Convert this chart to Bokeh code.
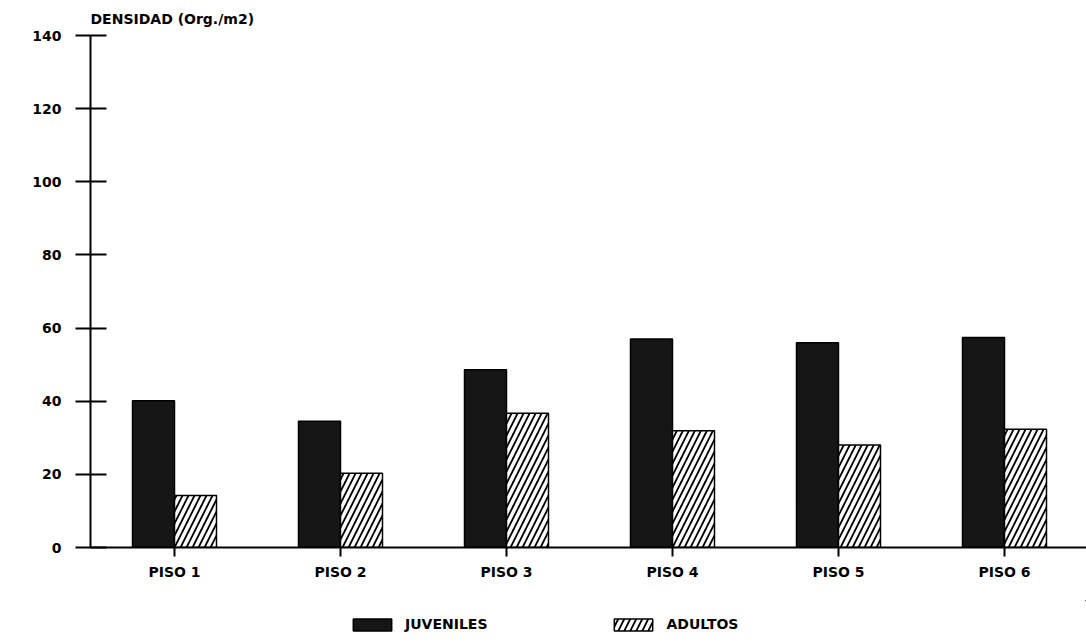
from bokeh.plotting import figure
from bokeh.models import ColumnDataSource, Legend, LegendItem, FixedTicker, Range1d, Title
from bokeh.layouts import column
from bokeh.embed import file_html
from bokeh.resources import INLINE

categories = ["PISO 1", "PISO 2", "PISO 3", "PISO 4", "PISO 5", "PISO 6"]
juveniles = [40.1, 34.5, 48.6, 57.0, 56.0, 57.4]
adultos = [14.2, 20.3, 36.7, 31.9, 28.0, 32.3]
y_ticks = [0, 20, 40, 60, 80, 100, 120, 140]
series_labels = ["JUVENILES", "ADULTOS"]

FONT = "DejaVu Sans"
pos = list(range(1, len(categories) + 1))
bw = 0.253

src = ColumnDataSource(dict(
    x=pos,
    xj=[p - bw / 2 for p in pos],
    xa=[p + bw / 2 for p in pos],
    j=juveniles,
    a=adultos,
))

J_STYLE = dict(fill_color="#161616", line_color="black", line_width=1.5)
A_STYLE = dict(fill_color="white", line_color="black", line_width=1.5,
               hatch_pattern="/", hatch_color="black", hatch_weight=1.8, hatch_scale=12)

p = figure(width=1086, height=600, output_backend="svg", toolbar_location=None,
           x_range=Range1d(0.494, 6.494), y_range=Range1d(0, 140),
           min_border_left=90, min_border_top=34, min_border_right=0, min_border_bottom=53)
p.outline_line_color = None
p.grid.visible = False
p.background_fill_color = "white"
p.border_fill_color = "white"

p.vbar(x="xj", width=bw, top="j", bottom=0, source=src, **J_STYLE)
p.vbar(x="xa", width=bw, top="a", bottom=0, source=src, **A_STYLE)

# Y axis
ya = p.yaxis[0]
ya.ticker = FixedTicker(ticks=y_ticks)
ya.major_tick_in = 16
ya.major_tick_out = 15
ya.minor_tick_line_color = None
ya.axis_line_width = 2
ya.major_tick_line_width = 2
ya.major_label_standoff = 14
ya.major_label_text_font = FONT
ya.major_label_text_font_size = "14px"
ya.major_label_text_font_style = "bold"
ya.major_label_text_color = "black"

# X axis
xa = p.xaxis[0]
xa.ticker = FixedTicker(ticks=pos)
xa.major_label_overrides = {i + 1: c for i, c in enumerate(categories)}
xa.major_tick_in = 0
xa.major_tick_out = 9
xa.minor_tick_line_color = None
xa.axis_line_width = 2
xa.major_tick_line_width = 2
xa.major_label_standoff = 7
xa.major_label_text_font = FONT
xa.major_label_text_font_size = "14px"
xa.major_label_text_font_style = "bold"
xa.major_label_text_color = "black"

p.title = Title(text="DENSIDAD (Org./m2)", align="left", text_font=FONT,
                text_font_size="14px", text_font_style="bold", text_color="black",
                standoff=17, offset=0)

# Legend strip below the chart (its bars lie far outside its ranges; only swatches show)
lg = figure(width=1086, height=42, output_backend="svg", toolbar_location=None,
            x_range=Range1d(-1000, -999), y_range=Range1d(-1000, -999),
            min_border_left=0, min_border_top=0, min_border_right=0, min_border_bottom=0)
lg.axis.visible = False
lg.grid.visible = False
lg.outline_line_color = None
lj = lg.vbar(x="xj", top="j", bottom=0, width=bw, source=src, **J_STYLE)
la = lg.vbar(x="xa", top="a", bottom=0, width=bw, source=src, **A_STYLE)

legend = Legend(items=[LegendItem(label=series_labels[0], renderers=[lj], index=0),
                       LegendItem(label=series_labels[1], renderers=[la], index=0)],
                orientation="horizontal", location=(258, 10),
                glyph_width=48, glyph_height=15, label_text_font=FONT,
                label_text_font_size="14px", label_text_font_style="bold",
                label_text_color="black", label_height=15,
                border_line_color=None, background_fill_alpha=0,
                spacing=122, label_standoff=9, margin=0, padding=0)
lg.add_layout(legend, "center")

open("out.html", "w").write(file_html(column(p, lg), INLINE))
